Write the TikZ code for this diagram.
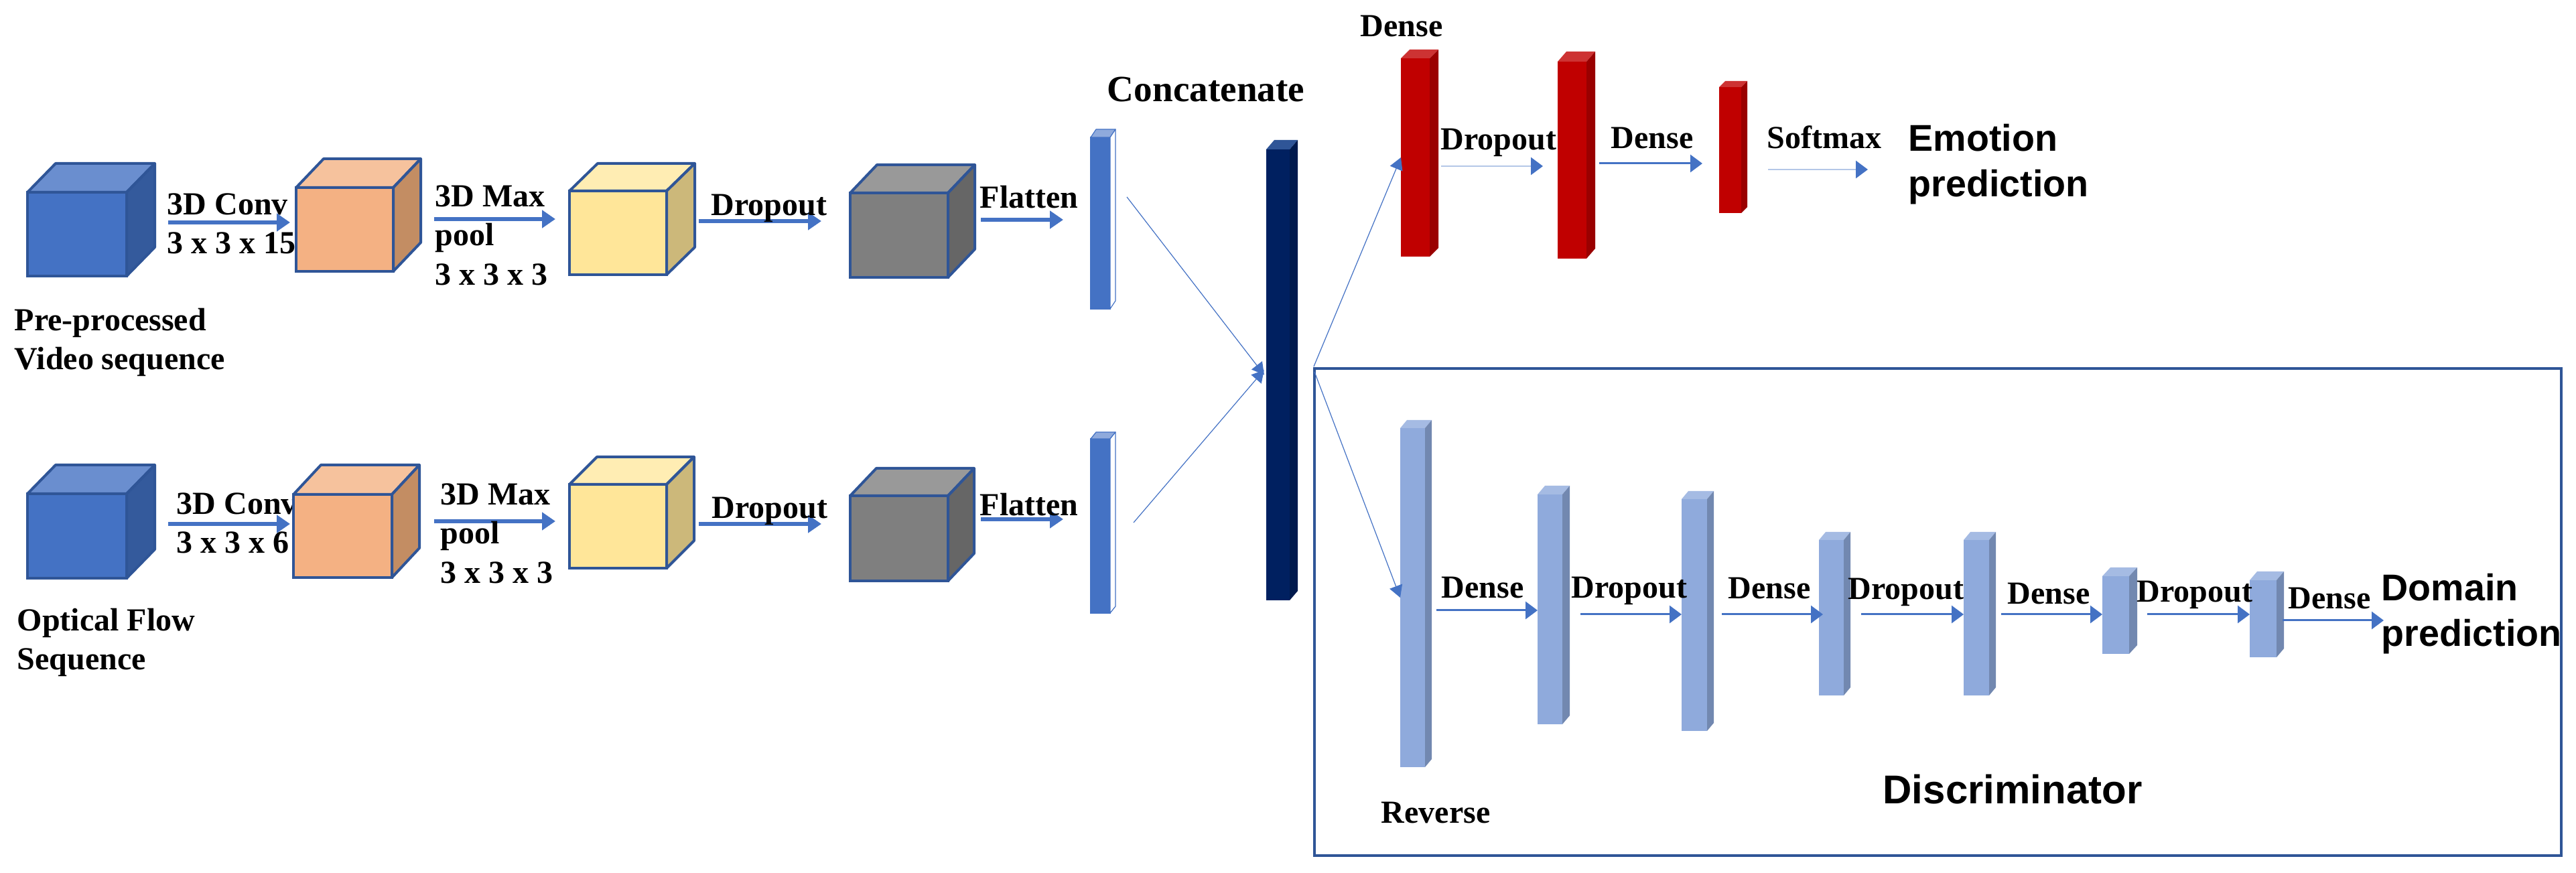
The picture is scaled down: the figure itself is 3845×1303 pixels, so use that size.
\documentclass[tikz,border=0pt]{standalone}
\usepackage{fontspec}
\setmainfont{Liberation Serif}
\newfontfamily\headsans{Liberation Sans}
\usetikzlibrary{arrows.meta}

\definecolor{edgeblue}{HTML}{2F5597}
\definecolor{flowblue}{HTML}{4472C4}
\definecolor{flowpale}{HTML}{B4C7E7}
\definecolor{blueF}{HTML}{4472C4}
\definecolor{blueT}{HTML}{6A8ECF}
\definecolor{blueS}{HTML}{345A9C}
\definecolor{orangeF}{HTML}{F4B183}
\definecolor{orangeT}{HTML}{F6C29D}
\definecolor{orangeS}{HTML}{C38D63}
\definecolor{yellowF}{HTML}{FFE699}
\definecolor{yellowT}{HTML}{FFEDB3}
\definecolor{yellowS}{HTML}{CCB87A}
\definecolor{grayF}{HTML}{7F7F7F}
\definecolor{grayT}{HTML}{999999}
\definecolor{grayS}{HTML}{666666}
\definecolor{flatF}{HTML}{4472C4}
\definecolor{flatT}{HTML}{8FAADC}
\definecolor{flatS}{HTML}{FFFFFF}
\definecolor{navyF}{HTML}{002060}
\definecolor{navyT}{HTML}{2F5597}
\definecolor{navyS}{HTML}{001A4D}
\definecolor{redF}{HTML}{C00000}
\definecolor{redT}{HTML}{CD3333}
\definecolor{redS}{HTML}{9A0000}
\definecolor{paleF}{HTML}{8FAADC}
\definecolor{paleT}{HTML}{A5BBE3}
\definecolor{paleS}{HTML}{7288B0}

\tikzset{
  cubeE/.style={draw=edgeblue,line width=1pt},
  blueE/.style={cubeE},
  orangeE/.style={cubeE},
  yellowE/.style={cubeE},
  grayE/.style={cubeE},
  flatE/.style={draw=flowblue,line width=0.3pt},
  navyE/.style={draw=none},
  redE/.style={draw=none},
  paleE/.style={draw=none},
  blockface/.style={inner sep=0pt,outer sep=0pt},
  flow/.style={draw=flowblue,line width=1.5pt,-{Triangle[length=5pt,width=6.5pt]}},
  flowthin/.style={draw=flowblue,line width=0.75pt,-{Triangle[length=4.5pt,width=6.5pt,fill=flowblue]}},
  flowpaled/.style={draw=flowpale,line width=0.7pt,-{Triangle[length=4.5pt,width=6.5pt,color=flowblue]}},
  flowhair/.style={draw=flowblue,line width=0.3pt,-{Triangle[length=4.5pt,width=5pt]}},
  lbl/.style={inner sep=0pt,font=\bfseries\fontsize{12}{14.6}\selectfont,text height=8.2pt,text depth=0pt},
  lblrows/.style={inner sep=0pt,font=\bfseries\fontsize{12}{14.6}\selectfont,align=left,anchor=west},
  lblbig/.style={inner sep=0pt,font=\bfseries\fontsize{13.8}{15}\selectfont},
  head/.style={inner sep=0pt,font=\headsans\bfseries\fontsize{13.9}{17}\selectfont,align=left},
}

% colour prefix, name, x1, y1, x2, y2, depth x, depth y
\newcommand{\solidblock}[8]{
  \node[blockface,#1E,fill=#1F,minimum width={(#5-#3)*0.25pt},minimum height={(#6-#4)*0.25pt}] (#2) at ({(#3+#5)/2},{(#4+#6)/2}) {};
  \path[#1E,fill=#1T,line join=round] (#2.north west) -- ([shift={(#7,-#8)}]#2.north west) -- ([shift={(#7,-#8)}]#2.north east) -- (#2.north east) -- cycle;
  \path[#1E,fill=#1S,line join=round] (#2.north east) -- ([shift={(#7,-#8)}]#2.north east) -- ([shift={(#7,-#8)}]#2.south east) -- (#2.south east) -- cycle;
}

\begin{document}
\begin{tikzpicture}[x=0.25pt,y=0.25pt,yscale=-1]
\useasboundingbox (0,0) rectangle (3845,1303);

% Text Node
\node[lblrows] (convA) at (249,334) {3D Conv\\3 x 3 x 15};
\node[lblrows] (convB) at (263,781) {3D Conv\\3 x 3 x 6};

% Cubes
\solidblock{blue}{videoA}{41}{287}{189}{412}{42}{43}
\solidblock{orange}{convcubeA}{442}{280}{587}{405}{41}{43}
\solidblock{yellow}{poolcubeA}{850}{285}{995}{410}{42}{41}
\solidblock{gray}{dropcubeA}{1269}{288}{1415}{414}{40}{42}
\solidblock{blue}{videoB}{41}{737}{189}{863}{42}{43}
\solidblock{orange}{convcubeB}{438}{738}{585}{862}{41}{44}
\solidblock{yellow}{poolcubeB}{850}{723}{995}{848}{41}{41}
\solidblock{gray}{dropcubeB}{1269}{740}{1415}{867}{39}{41}

% Flatten and concatenate bars
\solidblock{flat}{flatA}{1628}{205}{1657}{461}{8}{12}
\solidblock{flat}{flatB}{1628}{655}{1657}{915}{8}{10}
\solidblock{navy}{concat}{1890}{223}{1925}{896}{12}{14}

% Emotion branch
\solidblock{red}{denseA}{2091}{87}{2134}{383}{13}{13}
\solidblock{red}{denseB}{2325}{92}{2368}{386}{13}{15}
\solidblock{red}{denseC}{2566}{130}{2599}{318}{9}{9}

% Discriminator branch
\draw[edgeblue,line width=1.2pt] (1962,550) rectangle (3823,1277);
\solidblock{pale}{reverse}{2090}{639}{2127}{1145}{10}{12}
\solidblock{pale}{discA}{2295}{738}{2332}{1081}{11}{13}
\solidblock{pale}{discB}{2510}{745}{2548}{1091}{10}{12}
\solidblock{pale}{discC}{2715}{806}{2752}{1038}{10}{12}
\solidblock{pale}{discD}{2931}{806}{2969}{1038}{10}{12}
\solidblock{pale}{discE}{3138}{860}{3178}{976}{12}{13}
\solidblock{pale}{discF}{3358}{866}{3398}{981}{11}{13}

% Straight Lines
\coordinate (a1) at (251,332);
\draw[flow,shorten >=2.25pt] (a1) -- (a1 -| convcubeA.west);
\coordinate (a2) at (648,327);
\draw[flow,shorten >=5.25pt] (a2) -- (a2 -| poolcubeA.west);
\coordinate (a3) at (1043,330);
\draw[flow,shorten >=10.75pt] (a3) -- (a3 -| dropcubeA.west);
\coordinate (a4) at (1464,328);
\draw[flow,shorten >=10.25pt] (a4) -- (a4 -| flatA.west);
\coordinate (b1) at (251,782);
\draw[flow,shorten >=1.25pt] (b1) -- (b1 -| convcubeB.west);
\coordinate (b2) at (648,778);
\draw[flow,shorten >=5.25pt] (b2) -- (b2 -| poolcubeB.west);
\coordinate (b3) at (1043,782);
\draw[flow,shorten >=10.75pt] (b3) -- (b3 -| dropcubeB.west);
\coordinate (b4) at (1464,775);
\draw[flow,shorten >=10.25pt] (b4) -- (b4 -| flatB.west);

% Lines into and out of the concatenation
\coordinate (f1) at (1682,294);
\draw[flowhair,shorten >=1.25pt] (f1) -- ([yshift=1pt]concat.west);
\coordinate (f2) at (1692,780);
\draw[flowhair,shorten >=1.25pt] (f2) -- ([yshift=-2.75pt]concat.west);
\coordinate (c1) at (1961,547);
\draw[flowhair] (c1) -- (denseA.west);
\coordinate (c2) at (1962,555);
\draw[flowhair] (c2) -- (reverse.west);

% Emotion arrows
\coordinate (e1) at (2151,248);
\draw[flowpaled,shorten >=5.5pt] (e1) -- (e1 -| denseB.west);
\coordinate (e2) at (2387,244);
\draw[flowthin,shorten >=6.25pt] (e2) -- (e2 -| denseC.west);
\coordinate (e3) at (2639,253);
\coordinate (e3end) at (2788,253);
\draw[flowpaled] (e3) -- (e3end);

% Discriminator arrows
\coordinate (d1) at (2144,911);
\draw[flowthin] (d1) -- (d1 -| discA.west);
\coordinate (d2) at (2359,917);
\draw[flowthin] (d2) -- (d2 -| discB.west);
\coordinate (d3) at (2570,917);
\draw[flowthin,shorten >=-1.5pt] (d3) -- (d3 -| discC.west);
\coordinate (d4) at (2778,917);
\draw[flowthin] (d4) -- (d4 -| discD.west);
\coordinate (d5) at (2987,917);
\draw[flowthin] (d5) -- (d5 -| discE.west);
\coordinate (d6) at (3205,917);
\draw[flowthin] (d6) -- (d6 -| discF.west);
\coordinate (d7) at (3407,926);
\coordinate (d7end) at (3558,926);
\draw[flowthin] (d7) -- (d7end);

% Text Node
\node[lblrows] (seqA) at (21,511) {Pre-processed\\Video sequence};
\node[lblrows] (seqB) at (25,959) {Optical Flow\\Sequence};
\node[lblrows] (maxA) at (649,351) {3D Max\\pool\\3 x 3 x 3};
\node[lblrows] (maxB) at (657,796) {3D Max\\pool\\3 x 3 x 3};
\node[lbl] (dropA) at (1148,305) {Dropout};
\node[lbl] (dropB) at (1149,757) {Dropout};
\node[lbl] (flatlblA) at (1536,294) {Flatten};
\node[lbl] (flatlblB) at (1536,753) {Flatten};
\node[lblbig] (concatlbl) at (1800,134) {Concatenate};
\node[lbl] (emoA) at (2092,38) {Dense};
\node[lbl] (emoB) at (2237,207) {Dropout};
\node[lbl] (emoC) at (2466,205) {Dense};
\node[lbl] (emoD) at (2723,205) {Softmax};
\node[head,anchor=west] (emotion) at (2848,245) {Emotion\\prediction};
\node[lbl] (revlbl) at (2143,1212) {Reverse};
\node[lbl] (dislblA) at (2213,876) {Dense};
\node[lbl] (dislblB) at (2432,876) {Dropout};
\node[lbl] (dislblC) at (2641,877) {Dense};
\node[lbl] (dislblD) at (2845,878) {Dropout};
\node[lbl] (dislblE) at (3058,885) {Dense};
\node[lbl] (dislblF) at (3276,882) {Dropout};
\node[lbl] (dislblG) at (3477,892) {Dense};
\node[head,anchor=west] (domain) at (3554,916) {Domain\\prediction};
\node[head,font=\headsans\bfseries\fontsize{15}{18}\selectfont] (discr) at (3004,1178) {Discriminator};

\end{tikzpicture}
\end{document}
